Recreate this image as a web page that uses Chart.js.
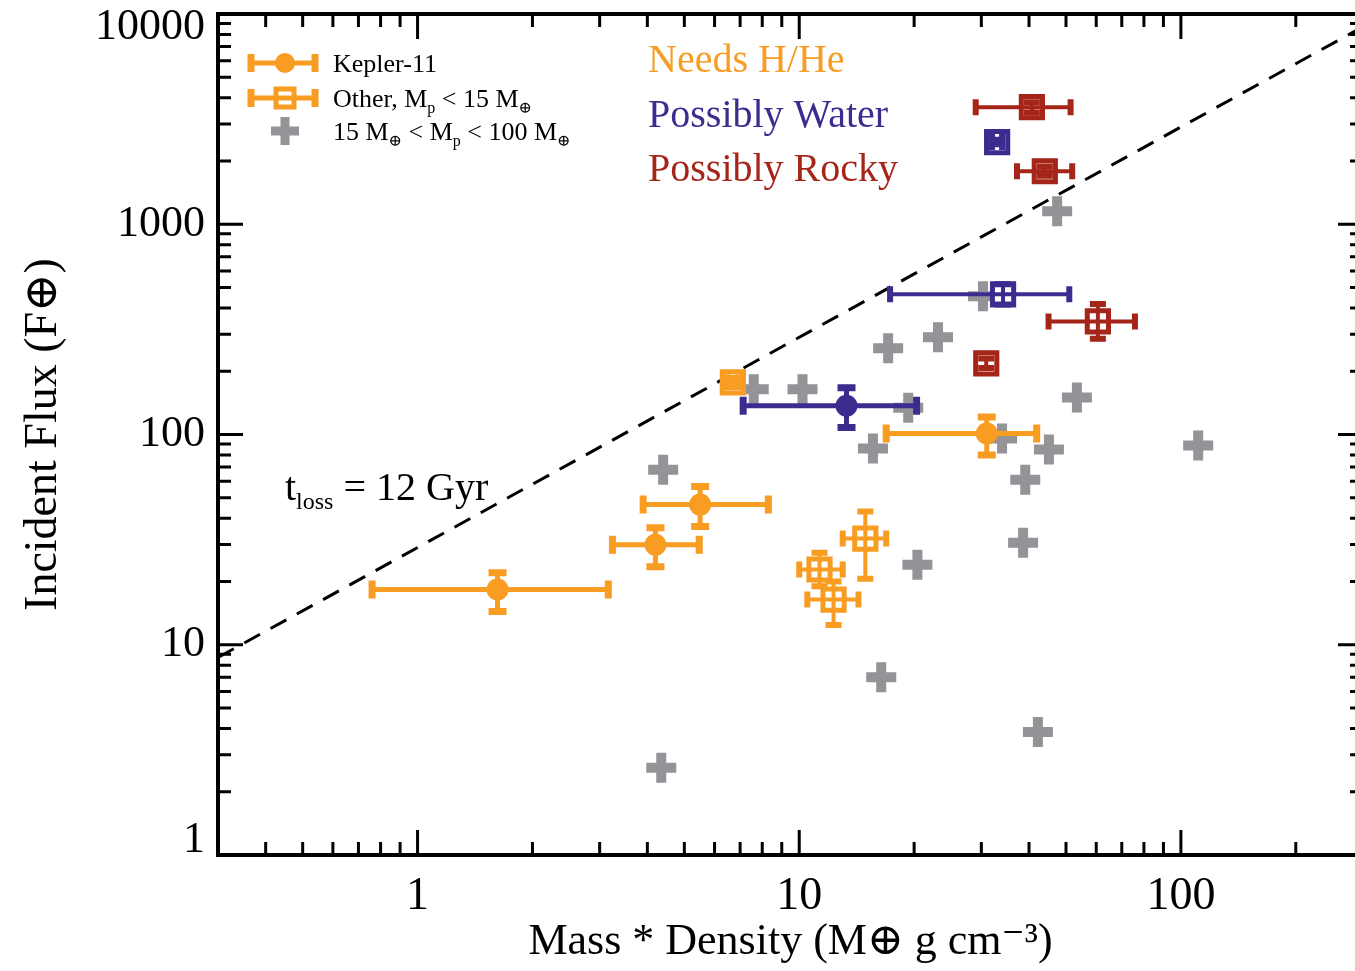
<!DOCTYPE html>
<html>
<head>
<meta charset="utf-8">
<title>Incident flux vs mass * density</title>
<script src="https://cdn.jsdelivr.net/npm/chart.js@4.4.1/dist/chart.umd.min.js"></script>
<style>
  html, body { margin: 0; padding: 0; overflow: hidden; background: #fff; }
  #wrap { position: absolute; left: 0; top: 0; width: 1365px; height: 971px; }
</style>
</head>
<body>
<div id="wrap"><canvas id="flux-chart" width="1365" height="971"></canvas></div>
<script>
// Kepler-11 planets (mass*density, incident flux, error ranges)
const k11Mrho = [1.62, 4.2, 5.5, 13.3, 31];
const k11Flux = [18.3, 29.9, 46.4, 137, 101];
const k11MrhoLo = [0.76, 3.24, 3.9, 7.13, 16.9];
const k11MrhoHi = [3.16, 5.47, 8.3, 20.3, 41.9];
const k11FluxLo = [14.4, 23.5, 36.5, 108, 80];
const k11FluxHi = [22, 36, 56.6, 167, 121];
const k11Class = ['h', 'h', 'h', 'w', 'h'];

// other planets, Mp < 15 Mearth
const othMrho = [6.7, 14.9, 11.3, 12.3, 33, 34.2, 40.7, 44, 60.6, 30.9];
const othFlux = [177, 32, 22.8, 16.4, 2460, 464, 3606, 1787, 345, 218];
const othMrhoLo = [6.45, 13.0, 10.0, 10.5, 32, 17.3, 29.0, 37.2, 45, 30.9];
const othMrhoHi = [6.95, 16.9, 13.0, 14.3, 34, 51, 51.4, 51.9, 75.8, 30.9];
const othFluxLo = [168, 20.6, 19, 12.4, 2400, 415, 3400, 1700, 285, 207];
const othFluxHi = [186, 43, 27.4, 20, 2520, 518, 3800, 1880, 417, 230];
const othClass = ['h', 'h', 'h', 'h', 'w', 'w', 'r', 'r', 'r', 'r'];

// 15 Mearth < Mp < 100 Mearth
const bigMrho = [4.35, 4.4, 7.6, 10.2, 17.1, 23.1, 19.3, 15.6, 30.3, 53.4, 34, 45.1, 39.1, 38.6, 20.4, 16.4, 42.2, 111, 47.4];
const bigFlux = [2.6, 68, 164, 164, 257, 290, 134, 85.8, 454, 150, 95.7, 84.8, 61, 30.6, 24, 7.0, 3.85, 88.7, 1153];

// t_loss = 12 Gyr
const lossMrho = [0.3, 300];
const lossFlux = [8.7, 8700];

const xTickLabels = ['1', '10', '100'];
const yTickLabels = ['1', '10', '100', '1000', '10000'];

const classColors = { h: '#F89C22', w: '#3B2D8F', r: '#A62519' };
const greyColor = '#939398';
const serif = "'Liberation Serif', 'DejaVu Serif', serif";

// 1,2,...9 per decade between min and max
const logTicks = (min, max) => {
  const out = [];
  for (let d = Math.floor(Math.log10(min)); d <= Math.ceil(Math.log10(max)); d++) {
    for (let m = 1; m < 10; m++) {
      const v = parseFloat((m * Math.pow(10, d)).toPrecision(3));
      if (v >= min - 1e-9 && v <= max + 1e-9) out.push(v);
    }
  }
  return out;
};
const xTickVals = logTicks(0.3, 300).filter(v => v > 0.3);
const yTickVals = logTicks(1, 10000);

const toPoints = (xs, ys) => xs.map((x, i) => ({ x, y: ys[i] }));

const errorBars = {
  id: 'errorBars',
  afterDatasetDraw(chart, args) {
    const ds = chart.data.datasets[args.index];
    if (!ds.err) return;
    const { x: xs, y: ys } = chart.scales;
    const ctx = chart.ctx;
    const e = ds.err;
    ctx.save();
    ctx.lineCap = 'butt';
    ds.data.forEach((p, i) => {
      ctx.strokeStyle = classColors[e.cls[i]];
      const px = xs.getPixelForValue(p.x);
      const py = ys.getPixelForValue(p.y);
      const x0 = xs.getPixelForValue(e.xLo[i]);
      const x1 = xs.getPixelForValue(e.xHi[i]);
      const y0 = ys.getPixelForValue(e.yLo[i]);
      const y1 = ys.getPixelForValue(e.yHi[i]);
      const c = e.cap;
      const hasX = Math.abs(x1 - x0) > 1;
      const hasY = Math.abs(y1 - y0) > 1;
      // bars
      ctx.lineWidth = e.width;
      ctx.beginPath();
      if (hasX) { ctx.moveTo(x0, py); ctx.lineTo(x1, py); }
      if (hasY) { ctx.moveTo(px, y0); ctx.lineTo(px, y1); }
      ctx.stroke();
      // caps, a little heavier
      ctx.lineWidth = e.width + 2;
      ctx.beginPath();
      if (hasX) {
        ctx.moveTo(x0, py - c); ctx.lineTo(x0, py + c);
        ctx.moveTo(x1, py - c); ctx.lineTo(x1, py + c);
      }
      if (hasY) {
        ctx.moveTo(px - c, y0); ctx.lineTo(px + c, y0);
        ctx.moveTo(px - c, y1); ctx.lineTo(px + c, y1);
      }
      ctx.stroke();
    });
    ctx.restore();
  }
};

// frame with inward ticks on all four sides
const frame = {
  id: 'frame',
  afterDatasetsDraw(chart) {
    const { ctx, chartArea: a, scales: { x, y } } = chart;
    ctx.save();
    ctx.strokeStyle = '#000';
    ctx.lineWidth = 3;
    ctx.beginPath();
    xTickVals.forEach(v => {
      const px = x.getPixelForValue(v);
      const len = xTickLabels.includes(String(v)) ? 25 : 13;
      ctx.moveTo(px, a.bottom); ctx.lineTo(px, a.bottom - len);
      ctx.moveTo(px, a.top); ctx.lineTo(px, a.top + len);
    });
    yTickVals.forEach(v => {
      const py = y.getPixelForValue(v);
      const len = yTickLabels.includes(String(v)) ? 25 : 13;
      ctx.moveTo(a.left, py); ctx.lineTo(a.left + len, py);
      ctx.moveTo(a.right, py); ctx.lineTo(a.right - len, py);
    });
    ctx.stroke();
    ctx.lineWidth = 4;
    ctx.strokeRect(a.left, a.top, a.right - a.left, a.bottom - a.top);
    ctx.restore();
  }
};

// text with subscripts: parts = [[text, isSub], ...]
const drawRich = (ctx, x, y, parts, size) => {
  parts.forEach(([t, sub]) => {
    const s = sub ? Math.round(size * 0.6) : size;
    ctx.font = `${s}px ${serif}`;
    ctx.fillText(t, x, sub ? y + size * 0.22 : y);
    x += ctx.measureText(t).width;
  });
};

const notes = {
  id: 'notes',
  afterDraw(chart) {
    const ctx = chart.ctx;
    ctx.save();
    ctx.textBaseline = 'alphabetic';
    ctx.textAlign = 'left';
    const orange = classColors.h;

    // legend samples
    const bar = (y) => {
      ctx.strokeStyle = orange;
      ctx.lineWidth = 5;
      ctx.beginPath();
      ctx.moveTo(251, y); ctx.lineTo(315, y);
      ctx.stroke();
      ctx.lineWidth = 7;
      ctx.beginPath();
      ctx.moveTo(251, y - 9); ctx.lineTo(251, y + 9);
      ctx.moveTo(315, y - 9); ctx.lineTo(315, y + 9);
      ctx.stroke();
    };
    bar(63);
    ctx.fillStyle = orange;
    ctx.beginPath(); ctx.arc(285, 63, 10, 0, Math.PI * 2); ctx.fill();
    ctx.fillStyle = '#fff';
    ctx.fillRect(276, 89, 18, 18);
    ctx.strokeStyle = orange; ctx.lineWidth = 5;
    ctx.strokeRect(276, 89, 18, 18);
    bar(98);
    ctx.strokeStyle = greyColor; ctx.lineWidth = 9;
    ctx.beginPath();
    ctx.moveTo(271, 131); ctx.lineTo(299, 131);
    ctx.moveTo(285, 117); ctx.lineTo(285, 145);
    ctx.stroke();

    ctx.fillStyle = '#000';
    drawRich(ctx, 333, 72, [['Kepler-11', false]], 26);
    drawRich(ctx, 333, 107, [['Other, M', false], ['p', true], [' < 15 M', false], ['\u2295', true]], 26);
    drawRich(ctx, 333, 140, [['15 M', false], ['\u2295', true], [' < M', false], ['p', true], [' < 100 M', false], ['\u2295', true]], 26);

    // composition classes
    ctx.font = `40px ${serif}`;
    ctx.fillStyle = classColors.h; ctx.fillText('Needs H/He', 648, 72);
    ctx.fillStyle = classColors.w; ctx.fillText('Possibly Water', 648, 127);
    ctx.fillStyle = classColors.r; ctx.fillText('Possibly Rocky', 648, 181);

    ctx.fillStyle = '#000';
    drawRich(ctx, 285, 500, [['t', false], ['loss', true], [' = 12 Gyr', false]], 40);
    ctx.restore();
  }
};

// y labels at the ends of the axis sit inside the frame, as in the original
const yLabel = v => {
  const s = String(v);
  if (!yTickLabels.includes(s)) return '';
  if (v === 10000) return ['', s];
  if (v === 1) return [s, ''];
  return s;
};
const yLabelFont = c => {
  const v = c.tick ? c.tick.value : null;
  const lh = v === 10000 ? '26px' : v === 1 ? '30px' : 1.2;
  return { family: serif, size: 44, lineHeight: lh };
};

new Chart(document.getElementById('flux-chart'), {
  type: 'scatter',
  data: {
    datasets: [
      {
        label: 'Kepler-11',
        data: toPoints(k11Mrho, k11Flux),
        pointStyle: 'circle',
        pointRadius: 11,
        borderWidth: 0,
        backgroundColor: k11Class.map(c => classColors[c]),
        err: { xLo: k11MrhoLo, xHi: k11MrhoHi, yLo: k11FluxLo, yHi: k11FluxHi, cls: k11Class, width: 5, cap: 9 },
        order: 1
      },
      {
        label: 'Other, Mp < 15 M\u2295',
        data: toPoints(othMrho, othFlux),
        pointStyle: 'rect',
        pointRadius: 15,
        borderWidth: 5,
        borderColor: othClass.map(c => classColors[c]),
        backgroundColor: '#fff',
        err: { xLo: othMrhoLo, xHi: othMrhoHi, yLo: othFluxLo, yHi: othFluxHi, cls: othClass, width: 4, cap: 8 },
        order: 2
      },
      {
        type: 'line',
        label: 't_loss = 12 Gyr',
        data: toPoints(lossMrho, lossFlux),
        borderColor: '#000',
        borderWidth: 3,
        borderDash: [18, 12],
        pointRadius: 0,
        fill: false,
        order: 3
      },
      {
        label: '15 M\u2295 < Mp < 100 M\u2295',
        data: toPoints(bigMrho, bigFlux),
        pointStyle: 'cross',
        pointRadius: 15,
        borderWidth: 10,
        borderColor: greyColor,
        order: 4
      }
    ]
  },
  options: {
    responsive: false,
    animation: false,
    events: [],
    layout: { autoPadding: false, padding: { top: 14, right: 2, left: 0, bottom: 0 } },
    plugins: { legend: { display: false }, tooltip: { enabled: false } },
    scales: {
      x: {
        type: 'logarithmic',
        min: 0.3,
        max: 300,
        afterBuildTicks: s => { s.ticks = xTickVals.map(v => ({ value: v })); },
        afterFit: s => { s.height = 116; s.paddingLeft = 0; s.paddingRight = 0; },
        grid: { display: false, drawTicks: false },
        border: { display: false },
        ticks: {
          autoSkip: false,
          maxRotation: 0,
          padding: 14,
          color: '#000',
          font: { family: serif, size: 46 },
          callback: v => xTickLabels.includes(String(v)) ? String(v) : ''
        },
        title: {
          display: true,
          text: 'Mass * Density (M\u2295 g cm\u207B\u00B3)',
          color: '#000',
          font: { family: serif, size: 44 },
          padding: { top: 0, bottom: 2 }
        }
      },
      y: {
        type: 'logarithmic',
        min: 1,
        max: 10000,
        afterBuildTicks: s => { s.ticks = yTickVals.map(v => ({ value: v })); },
        afterFit: s => { s.width = 218; s.paddingTop = 0; s.paddingBottom = 0; },
        grid: { display: false, drawTicks: false },
        border: { display: false },
        ticks: {
          autoSkip: false,
          padding: 13,
          color: '#000',
          font: yLabelFont,
          callback: yLabel
        },
        title: {
          display: true,
          text: 'Incident Flux (F\u2295)',
          color: '#000',
          font: { family: serif, size: 46 },
          padding: { top: 16, bottom: 0 }
        }
      }
    }
  },
  plugins: [errorBars, frame, notes]
});
</script>
</body>
</html>
